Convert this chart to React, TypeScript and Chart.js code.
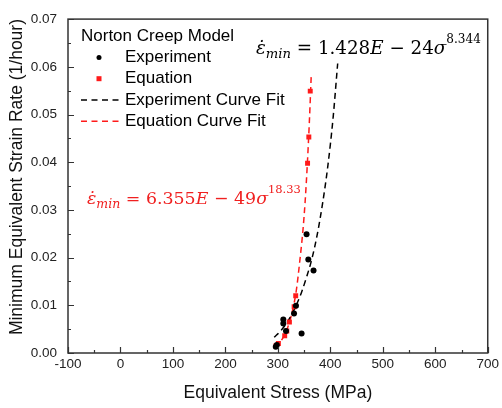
import React, { useEffect, useRef } from "react";
import { Chart, registerables } from "chart.js";

Chart.register(...registerables);

const experimentStress = [296, 298, 310.4, 310.4, 315.5, 330.8, 334.5, 345.2, 354.7, 358, 368];
const experimentRate = [0.0013, 0.0017, 0.0062, 0.007, 0.0046, 0.0083, 0.0099, 0.0041, 0.0249, 0.0196, 0.0173];
const equationStress = [296.5, 301, 313, 317, 322, 331, 334, 356.6, 359, 361.7];
const equationRate = [0.0015, 0.002, 0.0036, 0.0046, 0.0065, 0.0097, 0.012, 0.0398, 0.0453, 0.0549];
const expFitStress = [293, 305, 315, 325, 335, 345, 355, 365, 375, 385, 395, 405, 414];
const expFitRate = [0.0033, 0.0046, 0.006, 0.0078, 0.01, 0.0127, 0.016, 0.0198, 0.0248, 0.0312, 0.039, 0.049, 0.0607];
const eqFitStress = [294, 305, 315, 325, 335, 342, 348, 352, 356, 360, 363.5];
const eqFitRate = [0.0012, 0.0024, 0.0043, 0.0076, 0.013, 0.0195, 0.026, 0.0318, 0.0393, 0.0484, 0.0579];

const seriesLabels = ["Experiment", "Equation", "Experiment Curve Fit", "Equation Curve Fit"];
const legendTitle = "Norton Creep Model";
const xTitle = "Equivalent Stress (MPa)";
const yTitle = "Minimum Equivalent Strain Rate (1/hour)";
const xRange = [-100, 700, 100];
const yRange = [0, 0.07, 0.01];

type Piece = { t: string; italic?: boolean; mode?: "sub" | "sup" };
const expEquation: Piece[] = [
  { t: "ε\u0307", italic: true },
  { t: "min", italic: true, mode: "sub" },
  { t: " = 1.428" },
  { t: "E", italic: true },
  { t: " − 24" },
  { t: "σ", italic: true },
  { t: "8.344", mode: "sup" },
];
const eqEquation: Piece[] = [
  { t: "ε\u0307", italic: true },
  { t: "min", italic: true, mode: "sub" },
  { t: " = 6.355" },
  { t: "E", italic: true },
  { t: " − 49" },
  { t: "σ", italic: true },
  { t: "18.33", mode: "sup" },
];

const RED = "#ff1a1a";
const EQ_RED = "#f02020";
const SANS = "'Liberation Sans', Arial, sans-serif";
const SERIF = "'DejaVu Serif', serif";

function pairs(xs: number[], ys: number[]) {
  return xs.map((x, i) => ({ x, y: ys[i] }));
}

function drawEquation(ctx: CanvasRenderingContext2D, pieces: Piece[], x: number, y: number, size: number, color: string) {
  ctx.save();
  ctx.fillStyle = color;
  ctx.textBaseline = "alphabetic";
  ctx.textAlign = "left";
  let cx = x;
  for (const p of pieces) {
    let s = size;
    let dy = 0;
    if (p.mode === "sub") { s = size * 0.72; dy = size * 0.2; }
    if (p.mode === "sup") { s = size * 0.66; dy = -size * 0.62; }
    ctx.font = `${p.italic ? "italic " : ""}${s}px ${SERIF}`;
    ctx.fillText(p.t, cx, y + dy);
    cx += ctx.measureText(p.t).width;
  }
  ctx.restore();
}

const decorPlugin = {
  id: "decor",
  afterDraw(chart: any) {
    const { ctx, chartArea: a, scales } = chart;
    const xs = scales.x;
    const ys = scales.y;
    ctx.save();
    // frame
    ctx.strokeStyle = "#333";
    ctx.lineWidth = 1.5;
    ctx.strokeRect(a.left, a.top, a.right - a.left, a.bottom - a.top);
    // inward ticks
    ctx.lineWidth = 1.2;
    ctx.beginPath();
    const xt = xs.ticks.map((t: any) => t.value);
    xt.forEach((v: number, i: number) => {
      const px = Math.round(xs.getPixelForValue(v)) + 0.5;
      ctx.moveTo(px, a.bottom);
      ctx.lineTo(px, a.bottom - 6);
      if (i < xt.length - 1) {
        const m = Math.round(xs.getPixelForValue((v + xt[i + 1]) / 2)) + 0.5;
        ctx.moveTo(m, a.bottom);
        ctx.lineTo(m, a.bottom - 3);
      }
    });
    const yt = ys.ticks.map((t: any) => t.value);
    yt.forEach((v: number, i: number) => {
      const py = Math.round(ys.getPixelForValue(v)) + 0.5;
      ctx.moveTo(a.left, py);
      ctx.lineTo(a.left + 6, py);
      if (i < yt.length - 1) {
        const m = Math.round(ys.getPixelForValue((v + yt[i + 1]) / 2)) + 0.5;
        ctx.moveTo(a.left, m);
        ctx.lineTo(a.left + 3, m);
      }
    });
    ctx.stroke();

    // axis titles
    ctx.fillStyle = "#111";
    ctx.font = `17.5px ${SANS}`;
    ctx.textAlign = "center";
    ctx.textBaseline = "middle";
    ctx.fillText(xTitle, (a.left + a.right) / 2, a.bottom + 40);
    ctx.save();
    ctx.translate(17, (a.top + a.bottom) / 2 - 9);
    ctx.rotate(-Math.PI / 2);
    ctx.fillText(yTitle, 0, 0);
    ctx.restore();

    // legend
    const lx = a.left + 13;
    const ly = a.top + 17;
    const rowH = 21.3;
    ctx.font = `17px ${SANS}`;
    ctx.textAlign = "left";
    ctx.textBaseline = "middle";
    ctx.fillStyle = "#000";
    ctx.fillText(legendTitle, lx, ly);
    chart.data.datasets.forEach((ds: any, i: number) => {
      const y = ly + rowH * (i + 1);
      ctx.save();
      if (ds.showLine) {
        ctx.strokeStyle = ds.borderColor;
        ctx.lineWidth = 1.5;
        ctx.setLineDash([6, 4.5]);
        ctx.beginPath();
        ctx.moveTo(lx, y);
        ctx.lineTo(lx + 39, y);
        ctx.stroke();
      } else {
        ctx.fillStyle = ds.backgroundColor;
        if (ds.pointStyle === "rect") {
          ctx.fillRect(a.left + 31 - 2.5, y - 2.5, 5, 5);
        } else {
          ctx.beginPath();
          ctx.arc(a.left + 31, y, 2.5, 0, Math.PI * 2);
          ctx.fill();
        }
      }
      ctx.restore();
      ctx.fillStyle = "#000";
      ctx.fillText(ds.label, a.left + 57, y);
    });

    // equations
    drawEquation(ctx, expEquation, a.left + 188, a.top + 35, 18.3, "#000");
    drawEquation(ctx, eqEquation, a.left + 19, a.top + 185, 17.4, EQ_RED);
    ctx.restore();
  },
};

export default function App() {
  const ref = useRef<HTMLCanvasElement | null>(null);
  useEffect(() => {
    if (!ref.current) return;
    const chart = new Chart(ref.current, {
      type: "scatter",
      data: {
        datasets: [
          {
            label: seriesLabels[0],
            data: pairs(experimentStress, experimentRate),
            backgroundColor: "#000",
            borderColor: "#000",
            pointStyle: "circle",
            pointRadius: 3,
            pointBorderWidth: 0,
            showLine: false,
          },
          {
            label: seriesLabels[1],
            data: pairs(equationStress, equationRate),
            backgroundColor: RED,
            borderColor: RED,
            pointStyle: "rect",
            pointRadius: 3.5,
            pointBorderWidth: 0,
            showLine: false,
          },
          {
            label: seriesLabels[2],
            data: pairs(expFitStress, expFitRate),
            borderColor: "#000",
            backgroundColor: "#000",
            borderWidth: 1.5,
            borderDash: [6, 4],
            pointRadius: 0,
            showLine: true,
            cubicInterpolationMode: "monotone",
          },
          {
            label: seriesLabels[3],
            data: pairs(eqFitStress, eqFitRate),
            borderColor: RED,
            backgroundColor: RED,
            borderWidth: 1.5,
            borderDash: [6, 4],
            pointRadius: 0,
            showLine: true,
            cubicInterpolationMode: "monotone",
          },
        ],
      },
      options: {
        animation: false,
        responsive: false,
        devicePixelRatio: 1,
        layout: { padding: { top: 15, right: 13, left: 0, bottom: 0 } },
        plugins: { legend: { display: false }, tooltip: { enabled: false } },
        scales: {
          x: {
            type: "linear",
            min: xRange[0],
            max: xRange[1],
            grid: { display: false, drawTicks: false },
            border: { display: false },
            ticks: {
              stepSize: xRange[2],
              padding: 3,
              color: "#222",
              font: { family: SANS, size: 13.5 },
            },
            afterFit: (s: any) => { s.height = 55; },
          },
          y: {
            type: "linear",
            min: yRange[0],
            max: yRange[1],
            grid: { display: false, drawTicks: false },
            border: { display: false },
            ticks: {
              stepSize: yRange[2],
              padding: 11,
              color: "#222",
              font: { family: SANS, size: 13.5 },
              callback: (v: any) => Number(v).toFixed(2),
            },
            afterFit: (s: any) => { s.width = 68; },
          },
        },
      },
      plugins: [decorPlugin],
    });
    return () => chart.destroy();
  }, []);
  return (
    <div style={{ position: "fixed", left: 0, top: 0, width: 502, height: 408, background: "#fff" }}>
      <canvas ref={ref} width={502} height={408} />
    </div>
  );
}
